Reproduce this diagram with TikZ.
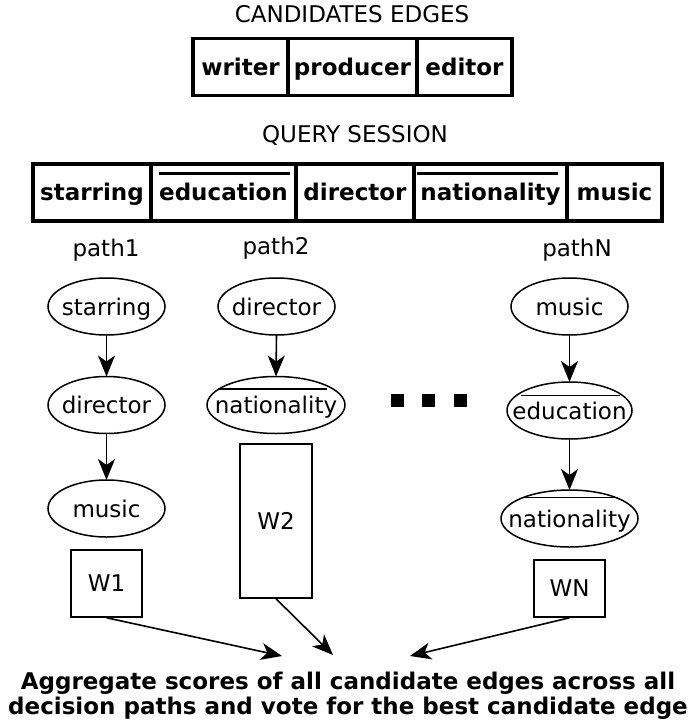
\documentclass[tikz,border=0pt]{standalone}
\usepackage{fontspec}
\setmainfont{DejaVu Sans}
\usetikzlibrary{arrows.meta}
\begin{document}
\begin{tikzpicture}[x=1pt,y=-1pt,
  lbl/.style={font=\fontsize{23}{27}\selectfont, inner sep=0pt},
  cell/.style={draw, line width=3.4pt, inner sep=0pt, outer sep=0pt,
    font=\fontsize{23}{27}\selectfont\bfseries, minimum height=57pt,
    text height=19pt, text depth=3pt},
  oval/.style={inner sep=0pt, outer sep=0pt, minimum height=57pt,
    font=\fontsize{23}{27}\selectfont, text height=19pt, text depth=2pt},
  ring/.style={line width=1.5pt},
  wbox/.style={draw, line width=1.5pt, inner sep=0pt, font=\fontsize{23}{27}\selectfont},
  flow/.style={line width=1.6pt, -{Stealth[length=21pt,width=17pt,inset=6pt]}},
  bar/.style={line width=3pt},
  thinbar/.style={line width=1.4pt}]
\useasboundingbox (0,0) rectangle (691,725);

% candidate edges
\node[lbl] (cetitle) at (352,14) {CANDIDATES EDGES};
\node[cell, minimum width=95pt] (writer) at (240.5,67) {writer};
\node[cell, minimum width=129pt] (producer) at (352.5,67) {producer};
\node[cell, minimum width=95pt] (editor) at (464.5,67) {editor};

% query session
\node[lbl] (qstitle) at (355,135) {QUERY SESSION};
\node[cell, minimum width=118pt] (qstar) at (92,192.5) {starring};
\node[cell, minimum width=145pt] (qedu) at (223.5,192.5) {education};
\node[cell, minimum width=118pt] (qdir) at (355,192.5) {director};
\node[cell, minimum width=153pt] (qnat) at (490.5,192.5) {nationality};
\node[cell, minimum width=95pt] (qmus) at (614.5,192.5) {music};
\draw[bar] (159,173) -- (290,173);
\draw[bar] (417,173) -- (558,173);

% path 1
\node[lbl] (p1) at (106,250) {path1};
\node[oval, minimum width=117pt] (a1) at (106.5,306.5) {starring};
\node[oval, minimum width=117pt] (a2) at (106.5,405) {director};
\node[oval, minimum width=117pt] (a3) at (106.5,508.5) {music};
\foreach \n in {a1,a2,a3}
  \draw[ring] (\n.center) ellipse [x radius=58.5, y radius=28.5];
\draw[flow] (a1.south) -- (a2.north);
\draw[flow] (a2.south) -- (a3.north);
\node[wbox, minimum width=71pt, minimum height=67pt] (w1) at (106.5,583.5) {W1};

% path 2
\node[lbl] (p2) at (276,248) {path2};
\node[oval, minimum width=117pt] (b1) at (276.5,306.5) {director};
\node[oval, minimum width=138pt] (b2) at (276,405) {nationality};
\draw[ring] (b1.center) ellipse [x radius=58.5, y radius=28.5];
\draw[ring] (b2.center) ellipse [x radius=69, y radius=28.5];
\draw[thinbar] (218,389) -- (327,389);
\draw[flow] (b1.south) -- (b2.north);
\node[wbox, minimum width=72pt, minimum height=154pt] (w2) at (276,521) {W2};

% dots between paths
\foreach \cx in {397,428,460}
  \fill (\cx,400) ++(-6.5,-6.5) rectangle ++(13,13);

% path N
\node[lbl] (pn) at (577,250) {pathN};
\node[oval, minimum width=117pt] (c1) at (569.5,306.5) {music};
\node[oval, minimum width=125pt] (c2) at (569.5,410.5) {education};
\node[oval, minimum width=137pt] (c3) at (569.5,518.5) {nationality};
\draw[ring] (c1.center) ellipse [x radius=58.5, y radius=28.5];
\draw[ring] (c2.center) ellipse [x radius=62.5, y radius=28.5];
\draw[ring] (c3.center) ellipse [x radius=68.5, y radius=28.5];
\draw[thinbar] (521,395.5) -- (620,395.5);
\draw[thinbar] (525,497.5) -- (618,497.5);
\draw[flow] (c1.south) -- (c2.north);
\draw[flow] (c2.south) -- (c3.north);
\node[wbox, minimum width=71pt, minimum height=57pt] (wn) at (569.5,588.5) {WN};

% aggregation
\coordinate (t1) at (282,656);
\coordinate (t2) at (333,655);
\coordinate (t3) at (410,656);
\draw[flow] (w1.south) -- (t1);
\draw[flow] (w2.south) -- (t2);
\draw[flow] (wn.south) -- (t3);
\node[lbl, font=\fontsize{23}{25}\selectfont\bfseries, align=center] (agg) at (348,696)
  {Aggregate scores of all candidate edges across all\\decision paths and vote for the best candidate edge};
\end{tikzpicture}
\end{document}
